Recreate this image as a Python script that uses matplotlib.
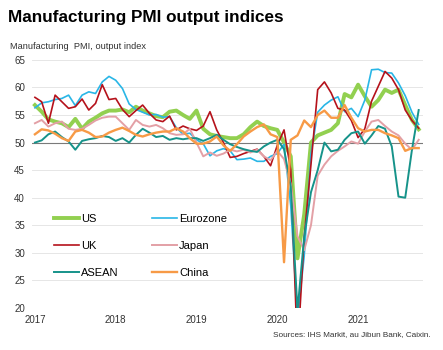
import numpy as np
import matplotlib
matplotlib.use("Agg")
import matplotlib.pyplot as plt

plt.rcParams['font.family'] = ['Liberation Sans', 'DejaVu Sans']

# monthly output index, Jan 2017 - Oct 2021
us = [56.8, 55.6, 54.2, 53.8, 53.5, 52.8, 54.3, 52.5, 53.8, 54.5, 55.3, 55.8,
      55.8, 56.0, 55.5, 56.5, 55.8, 55.3, 54.8, 54.6, 55.6, 55.8, 55.0, 54.3,
      55.8, 52.5, 51.5, 51.2, 51.0, 50.8, 50.8, 51.5, 52.8, 53.8, 53.0, 52.6,
      52.3, 50.0, 47.5, 29.0, 37.0, 50.0, 51.3, 51.8, 52.3, 53.5, 58.8, 58.2,
      60.5, 58.4, 56.5, 57.7, 59.6, 59.0, 59.6, 56.8, 54.1, 52.4]
eurozone = [56.3, 57.2, 57.4, 57.8, 58.0, 58.6, 56.7, 58.6, 59.2, 58.9, 61.0, 62.0,
            61.3, 59.8, 57.0, 56.0, 55.5, 55.0, 55.1, 54.6, 54.7, 52.7, 51.5, 51.7,
            50.5, 49.8, 47.6, 48.5, 48.9, 48.5, 46.9, 47.0, 47.2, 46.6, 46.6, 47.5,
            48.0, 49.7, 38.5, 18.1, 29.5, 47.9, 55.5, 56.8, 57.7, 58.3, 55.6, 56.2,
            54.7, 57.7, 63.2, 63.3, 62.7, 62.6, 60.8, 58.5, 55.5, 53.3]
uk = [58.2, 57.4, 53.5, 58.6, 57.4, 56.2, 56.5, 57.9, 55.9, 57.1, 60.5, 57.8,
      58.0, 56.0, 54.7, 55.8, 56.8, 55.3, 54.1, 53.8, 54.8, 52.3, 53.0, 52.5,
      52.2, 53.0, 55.6, 52.3, 50.0, 47.3, 47.5, 48.0, 48.4, 48.8, 47.5, 45.8,
      49.5, 52.3, 45.0, 12.0, 33.0, 46.0, 59.6, 61.0, 59.0, 56.2, 55.9, 54.0,
      50.9, 52.5, 57.5, 60.2, 62.9, 61.7, 59.6, 55.9, 54.0, 52.6]
japan = [53.5, 54.1, 52.9, 53.5, 53.8, 52.5, 52.3, 52.5, 53.2, 54.0, 54.5, 54.7,
         54.7, 53.5, 52.3, 54.1, 53.2, 52.9, 53.2, 52.6, 51.7, 51.4, 51.5, 52.5,
         50.0, 47.5, 48.2, 47.6, 48.0, 48.7, 48.4, 48.7, 48.2, 48.7, 47.5, 46.8,
         48.5, 47.0, 42.5, 33.0, 30.5, 35.0, 44.0, 46.0, 47.5, 48.5, 49.3, 50.2,
         49.8, 52.0, 53.8, 54.1, 53.0, 52.0, 51.3, 49.8, 48.7, 50.5]
asean = [50.0, 50.4, 51.5, 52.0, 51.0, 50.2, 48.7, 50.3, 50.6, 50.8, 51.2, 51.0,
         50.3, 50.8, 50.0, 51.4, 52.5, 51.8, 51.0, 51.2, 50.5, 50.8, 50.6, 50.8,
         50.8, 50.3, 50.8, 51.4, 50.5, 49.7, 49.2, 48.8, 48.5, 48.3, 49.3, 50.0,
         50.5, 48.8, 42.0, 19.5, 33.0, 41.0, 45.0, 50.0, 48.4, 48.7, 50.5, 51.7,
         52.0, 49.8, 51.3, 53.0, 52.5, 49.3, 40.2, 40.0, 48.7, 55.9]
china = [51.5, 52.4, 52.2, 51.6, 50.8, 50.3, 52.0, 52.3, 51.8, 51.0, 51.1, 51.8,
         52.3, 52.7, 52.1, 51.4, 51.1, 51.5, 51.8, 52.0, 52.0, 52.6, 52.0, 50.8,
         49.8, 49.8, 50.2, 51.1, 49.5, 48.5, 49.7, 51.1, 52.0, 52.8, 53.3, 51.5,
         51.0, 28.3, 50.5, 51.3, 54.0, 52.8, 55.0, 55.8, 54.5, 54.5, 56.8, 54.5,
         52.6, 52.0, 52.3, 52.3, 51.7, 51.3, 50.8, 48.5, 49.0, 49.0]

years = ['2017', '2018', '2019', '2020', '2021']
months = np.arange(len(us))

fig = plt.figure(figsize=(4.43, 3.5), dpi=100)
ax = fig.add_axes([0.072, 0.12, 0.883, 0.709])

ax.plot(months, us, color='#92d050', lw=2.8, label='US', zorder=3)
ax.plot(months, eurozone, color='#29b6e6', lw=1.2, label='Eurozone', zorder=3)
ax.plot(months, uk, color='#b5121b', lw=1.2, label='UK', zorder=3)
ax.plot(months, japan, color='#e3a0a6', lw=1.4, label='Japan', zorder=3)
ax.plot(months, asean, color='#16938a', lw=1.4, label='ASEAN', zorder=3)
ax.plot(months, china, color='#f79a46', lw=1.7, label='China', zorder=3)

ax.axhline(50, color='#7a7a7a', lw=0.8, zorder=2)
ax.set_ylim(20, 65)
ax.set_xlim(-0.45, 57.65)
ax.set_yticks(range(20, 66, 5))
ax.set_xticks([0, 12, 24, 36, 48])
ax.set_xticklabels(years)
ax.grid(axis='y', color='#e6e6e6', lw=0.7, zorder=1)
ax.tick_params(length=0, labelsize=7, colors='#333333', pad=5)
for s in ax.spines.values():
    s.set_visible(False)

h, l = ax.get_legend_handles_labels()
order = [0, 2, 4, 1, 3, 5]
ax.legend([h[i] for i in order], [l[i] for i in order], ncol=2, frameon=False,
          fontsize=8, handlelength=2.25, labelspacing=1.55, columnspacing=3.0,
          handletextpad=0.2, loc='upper left', bbox_to_anchor=(0.03, 0.42))

fig.text(0.018, 0.951, 'Manufacturing PMI output indices', fontsize=12.3,
         fontweight='bold', va='center')
fig.text(0.022, 0.866, 'Manufacturing  PMI, output index', fontsize=6.7,
         color='#333333', va='center')
fig.text(0.973, 0.045, 'Sources: IHS Markit, au Jibun Bank, Caixin.', fontsize=5.9,
         color='#333333', ha='right', va='center')

fig.savefig('out.png', dpi=100)
